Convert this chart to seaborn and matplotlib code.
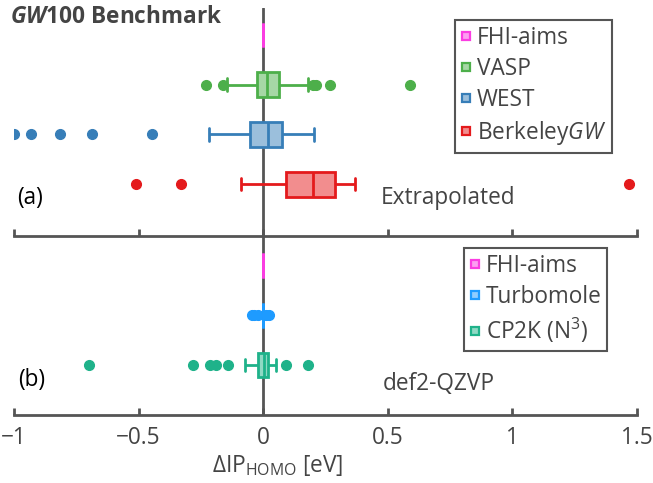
import numpy as np
import pandas as pd
import matplotlib
matplotlib.use("Agg")
import matplotlib.pyplot as plt
import seaborn as sns
from matplotlib.lines import Line2D
from matplotlib.colors import to_rgb

sns.set_theme(style="white")
plt.rcParams['font.family'] = ['Open Sans', 'DejaVu Sans']
plt.rcParams['mathtext.fontset'] = 'custom'
plt.rcParams['mathtext.rm'] = 'Open Sans'
plt.rcParams['mathtext.it'] = 'Open Sans:italic'
plt.rcParams['mathtext.bf'] = 'Open Sans:bold'
plt.rcParams['mathtext.bfit'] = 'Open Sans:bold:italic'

# ---------------- data ----------------
codes_a = ["FHI-aims", "VASP", "WEST", "BerkeleyGW"]
labels_a = ["FHI-aims", "VASP", "WEST", r"Berkeley$\mathit{GW}$"]
fhi_a = [0.0, 0.0, 0.0, 0.0, 0.0]
vasp = [-0.23, -0.16, -0.147, -0.10, -0.06, -0.04, -0.024, -0.015, -0.008, 0.0,
        0.005, 0.01, 0.014, 0.02, 0.027, 0.035, 0.045, 0.055, 0.064, 0.10,
        0.181, 0.20, 0.21, 0.27, 0.59]
west = [-1.00, -0.93, -0.817, -0.685, -0.448, -0.217, -0.051, -0.04, -0.025, -0.01,
        0.0, 0.01, 0.018, 0.025, 0.035, 0.045, 0.055, 0.065, 0.074, 0.09,
        0.11, 0.13, 0.15, 0.18, 0.205]
bgw = [-0.511, -0.330, -0.091, 0.0, 0.05, 0.090, 0.11, 0.13, 0.15, 0.18,
       0.201, 0.22, 0.24, 0.26, 0.275, 0.288, 0.30, 0.32, 0.34, 0.368, 1.469]

codes_b = ["FHI-aims", "Turbomole", "CP2K (N3)"]
labels_b = ["FHI-aims", "Turbomole", r"CP2K (N$^3$)"]
fhi_b = [0.0, 0.0, 0.0, 0.0, 0.0]
turbo = [-0.045, -0.035, -0.02, 0.0, 0.0, 0.0, 0.0, 0.0, 0.0, 0.0,
         0.0, 0.0, 0.0, 0.0, 0.0, 0.0, 0.0, 0.0, 0.012, 0.022]
cp2k = [-0.701, -0.280, -0.214, -0.190, -0.141, -0.073, -0.022, -0.015, -0.01, -0.005,
        0.0, 0.002, 0.005, 0.008, 0.01, 0.012, 0.015, 0.018, 0.02, 0.03,
        0.04, 0.045, 0.051, 0.09, 0.181]

colors_a = ["#fb3de2", "#4daf4a", "#377eb8", "#e41a1c"]
colors_b = ["#fb3de2", "#1e9bff", "#1fb28a"]

xticks = [-1, -0.5, 0, 0.5, 1, 1.5]
xticklabels = ["\u22121", "\u22120.5", "0", "0.5", "1", "1.5"]

GRAY = "#555555"
TXT = "#444444"
FS = 16.3


def light(c, a=0.5):
    r, g, b = to_rgb(c)
    return (1 - a + a * r, 1 - a + a * g, 1 - a + a * b)


def draw(ax, names, datasets, colors):
    for name, vals, c in zip(names, datasets, colors):
        df = pd.DataFrame({"code": [name] * len(vals), "dIP": vals})
        npatch = len(ax.patches)
        nline = len(ax.lines)
        sns.boxplot(data=df, x="dIP", y="code", order=names, color=c,
                    linecolor=c, saturation=1, width=0.5, linewidth=2.0,
                    fliersize=7, whis=1.5,
                    flierprops=dict(marker="o", markerfacecolor=c,
                                    markeredgecolor=c),
                    ax=ax)
        for p in ax.patches[npatch:]:
            p.set_facecolor(light(c))
            p.set_edgecolor(c)
            p.set_linewidth(2.0)
        for ln in ax.lines[nline:]:
            ln.set_color(c)
            if ln.get_marker() not in (None, "None", "", " "):
                ln.set_marker("o")
                ln.set_markerfacecolor(c)
                ln.set_markeredgecolor(c)
                ln.set_markersize(7)


W, H = 653, 483
fig = plt.figure(figsize=(W / 100, H / 100), dpi=100)
ax_a = fig.add_axes([14 / W, 1 - 236 / H, 623 / W, 228 / H])
ax_b = fig.add_axes([14 / W, 1 - 415 / H, 623 / W, 179 / H])

for ax in (ax_a, ax_b):
    ax.axvline(0, color=GRAY, lw=2, zorder=0.5)

draw(ax_a, codes_a, [fhi_a, vasp, west, bgw], colors_a)
draw(ax_b, codes_b, [fhi_b, turbo, cp2k], colors_b)

ax_a.set_ylim(4.044, -0.543)
ax_b.set_ylim(3.005, -0.593)

for ax in (ax_a, ax_b):
    ax.set_xlim(-1, 1.5)
    ax.set_xticks(xticks)
    ax.set_yticks([])
    ax.set_ylabel("")
    ax.set_xlabel("")
    for s in ("left", "right", "top"):
        ax.spines[s].set_visible(False)
    ax.spines["bottom"].set_color(GRAY)
    ax.spines["bottom"].set_linewidth(2)
    ax.tick_params(axis="x", direction="in", length=5, width=2, color=GRAY,
                   labelsize=FS, labelcolor=TXT, pad=8, bottom=True)
    ax.set_facecolor("none")

ax_a.set_xticklabels([])
ax_b.set_xticklabels(xticklabels)

ax_b.set_xlabel(r"$\Delta$IP$_{\mathrm{HOMO}}$ [eV]", fontsize=FS, color=TXT)
ax_b.xaxis.set_label_coords((278 - 14) / 623, (415 - 465) / 179)
ax_b.xaxis.label.set_va("center")

# texts
fig.text(10 / W, 1 - 17 / H, r"$\mathbfit{GW}$100 Benchmark", fontsize=16.3,
         fontweight="bold", color=TXT, va="center", ha="left")
fig.text(17 / W, 1 - 198 / H, "(a)", fontsize=FS, color="black", va="center")
fig.text(381 / W, 1 - 198 / H, "Extrapolated", fontsize=FS, color=TXT, va="center")
fig.text(18 / W, 1 - 380 / H, "(b)", fontsize=FS, color="black", va="center")
fig.text(383 / W, 1 - 384 / H, "def2-QZVP", fontsize=FS, color=TXT, va="center")


def legend(ax, labels, colors, anchor):
    handles = [Line2D([], [], linestyle="none", marker="s", markersize=5.5,
                      markerfacecolor=light(c), markeredgecolor=c,
                      markeredgewidth=1.6) for c in colors]
    leg = ax.legend(handles, labels, loc="upper right",
                    bbox_to_anchor=anchor, bbox_transform=fig.transFigure,
                    borderaxespad=0, fancybox=False, framealpha=1,
                    edgecolor=GRAY, fontsize=FS, handlelength=0.45,
                    handletextpad=0.25, labelspacing=0.32, borderpad=0.25)
    leg.get_frame().set_linewidth(1.5)
    for t in leg.get_texts():
        t.set_color(TXT)
    return leg


legend(ax_a, labels_a, colors_a, (612 / W, 1 - 20 / H))
legend(ax_b, labels_b, colors_b, (607 / W, 1 - 248 / H))

fig.savefig("out.png", dpi=100)
